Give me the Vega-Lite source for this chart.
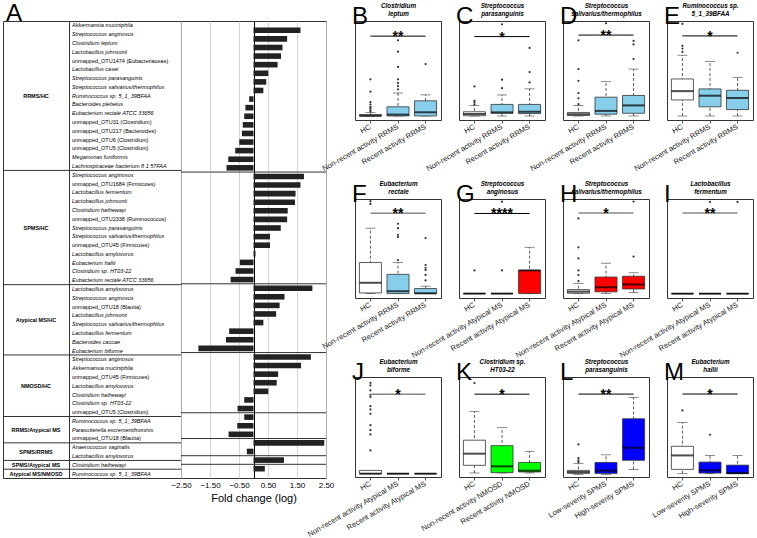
{
"$schema": "https://vega.github.io/schema/vega-lite/v6.json",
"padding": {"left": 2, "top": 1, "right": 0, "bottom": 0},
"background": "white",
"bounds": "flush",
"spacing": 0,
"config": {
 "font": "Liberation Sans",
 "view": {"stroke": "#333", "strokeWidth": 1},
 "axisY": {"labelAngle": 270, "labelAlign": "center", "labelBaseline": "bottom", "labelFontSize": 5.5, "labelPadding": 2, "tickSize": 3, "domain": false, "grid": false, "titleFontSize": 9.5, "titleFontWeight": "normal", "titlePadding": 3, "labelColor": "#333", "tickColor": "#555", "titleColor": "#222"},
 "axisBottom": {"labelAngle": -30, "labelAlign": "right", "labelBaseline": "middle", "labelFontSize": 7.5, "labelPadding": 3, "tickSize": 3, "domain": false, "labelColor": "#222", "tickColor": "#555"},
 "axisTop": {"labels": false, "ticks": false, "domain": false, "titleFontSize": 6.3, "titleFontStyle": "italic", "titleFontWeight": "bold", "titlePadding": 4, "titleColor": "#000"},
 "title": {"fontSize": 24, "fontWeight": "normal", "anchor": "start", "frame": "group", "color": "#000", "offset": -26, "dx": -3, "align": "right"}
},
"datasets": {
 "fc": [
  {"g": "RRMS/HC", "s": "Akkermansia muciniphila", "v": 1.62},
  {"g": "RRMS/HC", "s": "Streptococcus anginosus", "v": 1.16},
  {"g": "RRMS/HC", "s": "Clostridium leptum", "v": 1.0},
  {"g": "RRMS/HC", "s": "Lactobacillus johnsonii", "v": 0.95},
  {"g": "RRMS/HC", "s": "unmapped_OTU1474 (Eubacteriaceae)", "v": 0.83},
  {"g": "RRMS/HC", "s": "Lactobacillus casei", "v": 0.51},
  {"g": "RRMS/HC", "s": "Streptococcus parasanguinis", "v": 0.44},
  {"g": "RRMS/HC", "s": "Streptococcus salivarius/thermophilus", "v": 0.34},
  {"g": "RRMS/HC", "s": "Ruminococcus sp. 5_1_39BFAA", "v": -0.15},
  {"g": "RRMS/HC", "s": "Bacteroides plebeius", "v": -0.28},
  {"g": "RRMS/HC", "s": "Eubacterium rectale ATCC 33656", "v": -0.32},
  {"g": "RRMS/HC", "s": "unmapped_OTU31 (Clostridium)", "v": -0.37},
  {"g": "RRMS/HC", "s": "unmapped_OTU217 (Bacteroides)", "v": -0.4},
  {"g": "RRMS/HC", "s": "unmapped_OTU6 (Clostridium)", "v": -0.49},
  {"g": "RRMS/HC", "s": "unmapped_OTU5 (Clostridium)", "v": -0.63},
  {"g": "RRMS/HC", "s": "Megamonas funiformis", "v": -0.87},
  {"g": "RRMS/HC", "s": "Lachnospiraceae bacterium 8 1 57FAA", "v": -0.93},
  {"g": "SPMS/HC", "s": "Streptococcus anginosus", "v": 1.74},
  {"g": "SPMS/HC", "s": "unmapped_OTU1684 (Firmicutes)", "v": 1.62},
  {"g": "SPMS/HC", "s": "Lactobacillus fermentum", "v": 1.45},
  {"g": "SPMS/HC", "s": "Lactobacillus johnsonii", "v": 1.43},
  {"g": "SPMS/HC", "s": "Clostridium hathewayi", "v": 1.18},
  {"g": "SPMS/HC", "s": "unmapped_OTU2338 (Ruminococcus)", "v": 1.16},
  {"g": "SPMS/HC", "s": "Streptococcus parasanguinis", "v": 0.94},
  {"g": "SPMS/HC", "s": "Streptococcus salivarius/thermophilus", "v": 0.57},
  {"g": "SPMS/HC", "s": "unmapped_OTU45 (Firmicutes)", "v": 0.57},
  {"g": "SPMS/HC", "s": "Lactobacillus amylovorus", "v": 0.07},
  {"g": "SPMS/HC", "s": "Eubacterium hallii", "v": -0.47},
  {"g": "SPMS/HC", "s": "Clostridium sp. HT03-22", "v": -0.62},
  {"g": "SPMS/HC", "s": "Eubacterium rectale ATCC 33656", "v": -0.79},
  {"g": "Atypical MS/HC", "s": "Lactobacillus amylovorus", "v": 2.03},
  {"g": "Atypical MS/HC", "s": "Streptococcus anginosus", "v": 1.07},
  {"g": "Atypical MS/HC", "s": "unmapped_OTU18 (Blautia)", "v": 0.9},
  {"g": "Atypical MS/HC", "s": "Lactobacillus johnsonii", "v": 0.78},
  {"g": "Atypical MS/HC", "s": "Streptococcus salivarius/thermophilus", "v": 0.34},
  {"g": "Atypical MS/HC", "s": "Lactobacillus fermentum", "v": -0.84},
  {"g": "Atypical MS/HC", "s": "Bacteroides caccae", "v": -0.95},
  {"g": "Atypical MS/HC", "s": "Eubacterium biforme", "v": -1.9},
  {"g": "NMOSD/HC", "s": "Streptococcus anginosus", "v": 1.98},
  {"g": "NMOSD/HC", "s": "Akkermansia muciniphila", "v": 1.64},
  {"g": "NMOSD/HC", "s": "unmapped_OTU45 (Firmicutes)", "v": 0.85},
  {"g": "NMOSD/HC", "s": "Lactobacillus amylovorus", "v": 0.8},
  {"g": "NMOSD/HC", "s": "Clostridium hathewayi", "v": 0.51},
  {"g": "NMOSD/HC", "s": "Clostridium sp. HT03-22", "v": -0.32},
  {"g": "NMOSD/HC", "s": "unmapped_OTU5 (Clostridium)", "v": -0.55},
  {"g": "RRMS/Atypical MS", "s": "Ruminococcus sp. 5_1_39BFAA", "v": -0.32},
  {"g": "RRMS/Atypical MS", "s": "Parasutterella excrementihominis", "v": -0.56},
  {"g": "RRMS/Atypical MS", "s": "unmapped_OTU18 (Blautia)", "v": -0.86},
  {"g": "SPMS/RRMS", "s": "Anaerococcus vaginalis", "v": 2.44},
  {"g": "SPMS/RRMS", "s": "Lactobacillus amylovorus", "v": -0.23},
  {"g": "SPMS/Atypical MS", "s": "Clostridium hathewayi", "v": 1.05},
  {"g": "Atypical MS/NMOSD", "s": "Ruminococcus sp. 5_1_39BFAA", "v": 0.39}
 ],
 "box": [
  {"p": "B", "grp": "HC", "c": "HC", "lo": 0, "q1": 0, "med": 0.005, "q3": 0.03, "hi": 0.075},
  {"p": "B", "grp": "Non-recent activity RRMS", "c": "RRMS", "lo": 0, "q1": 0, "med": 0.03, "q3": 0.2, "hi": 0.5},
  {"p": "B", "grp": "Recent activity RRMS", "c": "RRMS", "lo": 0, "q1": 0, "med": 0.08, "q3": 0.33, "hi": 0.46},
  {"p": "C", "grp": "HC", "c": "HC", "lo": 0, "q1": 0.01, "med": 0.066, "q3": 0.14, "hi": 0.34},
  {"p": "C", "grp": "Non-recent activity RRMS", "c": "RRMS", "lo": 0, "q1": 0.09, "med": 0.12, "q3": 0.38, "hi": 0.69},
  {"p": "C", "grp": "Recent activity RRMS", "c": "RRMS", "lo": 0, "q1": 0.08, "med": 0.14, "q3": 0.38, "hi": 0.89},
  {"p": "D", "grp": "HC", "c": "HC", "lo": 0, "q1": 0.06, "med": 0.3, "q3": 0.6, "hi": 1.8},
  {"p": "D", "grp": "Non-recent activity RRMS", "c": "RRMS", "lo": 0, "q1": 0.3, "med": 0.86, "q3": 3.2, "hi": 5.9},
  {"p": "D", "grp": "Recent activity RRMS", "c": "RRMS", "lo": 0, "q1": 0.46, "med": 1.8, "q3": 3.5, "hi": 8.0},
  {"p": "E", "grp": "HC", "c": "HC", "lo": 0, "q1": 2.9, "med": 4.5, "q3": 6.7, "hi": 11.0},
  {"p": "E", "grp": "Non-recent activity RRMS", "c": "RRMS", "lo": 0, "q1": 1.65, "med": 3.67, "q3": 4.9, "hi": 9.86},
  {"p": "E", "grp": "Recent activity RRMS", "c": "RRMS", "lo": 0, "q1": 1.16, "med": 3.25, "q3": 4.65, "hi": 7.0},
  {"p": "F", "grp": "HC", "c": "HC", "lo": 0, "q1": 0.12, "med": 1.97, "q3": 5.65, "hi": 11.9},
  {"p": "F", "grp": "Non-recent activity RRMS", "c": "RRMS", "lo": 0, "q1": 0, "med": 0.43, "q3": 3.5, "hi": 5.65},
  {"p": "F", "grp": "Recent activity RRMS", "c": "RRMS", "lo": 0, "q1": 0, "med": 0.06, "q3": 0.92, "hi": 1.35},
  {"p": "G", "grp": "HC", "c": "HC", "lo": 0, "q1": 0, "med": 0, "q3": 0, "hi": 0},
  {"p": "G", "grp": "Non-recent activity Atypical MS", "c": "Atypical MS", "lo": 0, "q1": 0, "med": 0, "q3": 0, "hi": 0},
  {"p": "G", "grp": "Recent activity Atypical MS", "c": "Atypical MS", "lo": 0, "q1": 0, "med": 0.032, "q3": 0.032, "hi": 0.064},
  {"p": "H", "grp": "HC", "c": "HC", "lo": 0, "q1": 0.06, "med": 0.35, "q3": 0.7, "hi": 1.75},
  {"p": "H", "grp": "Non-recent activity Atypical MS", "c": "Atypical MS", "lo": 0, "q1": 0.3, "med": 1.1, "q3": 2.86, "hi": 5.25},
  {"p": "H", "grp": "Recent activity Atypical MS", "c": "Atypical MS", "lo": 0.2, "q1": 0.8, "med": 1.58, "q3": 3.0, "hi": 3.6},
  {"p": "I", "grp": "HC", "c": "HC", "lo": 0, "q1": 0, "med": 0, "q3": 0, "hi": 0},
  {"p": "I", "grp": "Non-recent activity Atypical MS", "c": "Atypical MS", "lo": 0, "q1": 0, "med": 0, "q3": 0, "hi": 0},
  {"p": "I", "grp": "Recent activity Atypical MS", "c": "Atypical MS", "lo": 0, "q1": 0, "med": 0, "q3": 0, "hi": 0},
  {"p": "J", "grp": "HC", "c": "HC", "lo": 0, "q1": 0, "med": 0, "q3": 0.6, "hi": 0.6},
  {"p": "J", "grp": "Non-recent activity Atypical MS", "c": "Atypical MS", "lo": 0, "q1": 0, "med": 0, "q3": 0, "hi": 0},
  {"p": "J", "grp": "Recent activity Atypical MS", "c": "Atypical MS", "lo": 0, "q1": 0, "med": 0, "q3": 0, "hi": 0},
  {"p": "K", "grp": "HC", "c": "HC", "lo": 0, "q1": 1.45, "med": 3.65, "q3": 6.2, "hi": 11.66},
  {"p": "K", "grp": "Non-recent activity NMOSD", "c": "NMOSD", "lo": 0, "q1": 0.06, "med": 1.26, "q3": 5.17, "hi": 8.57},
  {"p": "K", "grp": "Recent activity NMOSD", "c": "NMOSD", "lo": 0, "q1": 0.19, "med": 0.44, "q3": 2.0, "hi": 4.1},
  {"p": "L", "grp": "HC", "c": "HC", "lo": 0, "q1": 0.03, "med": 0.076, "q3": 0.13, "hi": 0.35},
  {"p": "L", "grp": "Low-severity SPMS", "c": "SPMS", "lo": 0, "q1": 0.03, "med": 0.12, "q3": 0.39, "hi": 0.64},
  {"p": "L", "grp": "High-severity SPMS", "c": "SPMS", "lo": 0.16, "q1": 0.46, "med": 0.87, "q3": 1.82, "hi": 2.52},
  {"p": "M", "grp": "HC", "c": "HC", "lo": 0, "q1": 0.07, "med": 0.3, "q3": 0.45, "hi": 0.84},
  {"p": "M", "grp": "Low-severity SPMS", "c": "SPMS", "lo": 0, "q1": 0.01, "med": 0.055, "q3": 0.19, "hi": 0.3},
  {"p": "M", "grp": "High-severity SPMS", "c": "SPMS", "lo": 0, "q1": 0, "med": 0.01, "q3": 0.14, "hi": 0.3}
 ],
 "out": [
  {"p": "B", "grp": "HC", "y": 0.1}, {"p": "B", "grp": "HC", "y": 0.13}, {"p": "B", "grp": "HC", "y": 0.17}, {"p": "B", "grp": "HC", "y": 0.2}, {"p": "B", "grp": "HC", "y": 0.25}, {"p": "B", "grp": "HC", "y": 0.3}, {"p": "B", "grp": "HC", "y": 0.53}, {"p": "B", "grp": "HC", "y": 0.8},
  {"p": "B", "grp": "Non-recent activity RRMS", "y": 0.58}, {"p": "B", "grp": "Non-recent activity RRMS", "y": 0.65}, {"p": "B", "grp": "Non-recent activity RRMS", "y": 0.72}, {"p": "B", "grp": "Non-recent activity RRMS", "y": 0.8}, {"p": "B", "grp": "Non-recent activity RRMS", "y": 1.07}, {"p": "B", "grp": "Non-recent activity RRMS", "y": 1.4}, {"p": "B", "grp": "Non-recent activity RRMS", "y": 1.65},
  {"p": "B", "grp": "Recent activity RRMS", "y": 1.13},
  {"p": "C", "grp": "HC", "y": 0.38}, {"p": "C", "grp": "HC", "y": 0.45}, {"p": "C", "grp": "HC", "y": 0.5}, {"p": "C", "grp": "HC", "y": 0.97},
  {"p": "C", "grp": "Non-recent activity RRMS", "y": 0.91}, {"p": "C", "grp": "Non-recent activity RRMS", "y": 1.19}, {"p": "C", "grp": "Non-recent activity RRMS", "y": 3.0},
  {"p": "C", "grp": "Recent activity RRMS", "y": 1.1}, {"p": "C", "grp": "Recent activity RRMS", "y": 1.44}, {"p": "C", "grp": "Recent activity RRMS", "y": 2.23},
  {"p": "D", "grp": "HC", "y": 2.0}, {"p": "D", "grp": "HC", "y": 3.0}, {"p": "D", "grp": "HC", "y": 3.9}, {"p": "D", "grp": "HC", "y": 6.0}, {"p": "D", "grp": "HC", "y": 8.0}, {"p": "D", "grp": "HC", "y": 12.9},
  {"p": "D", "grp": "Non-recent activity RRMS", "y": 15.8},
  {"p": "D", "grp": "Recent activity RRMS", "y": 9.7}, {"p": "D", "grp": "Recent activity RRMS", "y": 12.2}, {"p": "D", "grp": "Recent activity RRMS", "y": 12.8},
  {"p": "E", "grp": "HC", "y": 11.6}, {"p": "E", "grp": "HC", "y": 12.2}, {"p": "E", "grp": "HC", "y": 12.7}, {"p": "E", "grp": "HC", "y": 16.7},
  {"p": "E", "grp": "Recent activity RRMS", "y": 11.45},
  {"p": "F", "grp": "HC", "y": 16.3}, {"p": "F", "grp": "HC", "y": 16.8},
  {"p": "F", "grp": "Non-recent activity RRMS", "y": 6.1}, {"p": "F", "grp": "Non-recent activity RRMS", "y": 10.3}, {"p": "F", "grp": "Non-recent activity RRMS", "y": 10.7}, {"p": "F", "grp": "Non-recent activity RRMS", "y": 11.9}, {"p": "F", "grp": "Non-recent activity RRMS", "y": 12.7},
  {"p": "F", "grp": "Recent activity RRMS", "y": 2.4}, {"p": "F", "grp": "Recent activity RRMS", "y": 3.4}, {"p": "F", "grp": "Recent activity RRMS", "y": 4.3}, {"p": "F", "grp": "Recent activity RRMS", "y": 4.7}, {"p": "F", "grp": "Recent activity RRMS", "y": 5.2}, {"p": "F", "grp": "Recent activity RRMS", "y": 10.1},
  {"p": "G", "grp": "HC", "y": 0.032},
  {"p": "G", "grp": "Non-recent activity Atypical MS", "y": 0.032}, {"p": "G", "grp": "Non-recent activity Atypical MS", "y": 0.127},
  {"p": "H", "grp": "HC", "y": 2.16}, {"p": "H", "grp": "HC", "y": 3.2}, {"p": "H", "grp": "HC", "y": 4.0}, {"p": "H", "grp": "HC", "y": 6.1}, {"p": "H", "grp": "HC", "y": 8.0}, {"p": "H", "grp": "HC", "y": 13.0},
  {"p": "H", "grp": "Recent activity Atypical MS", "y": 6.4}, {"p": "H", "grp": "Recent activity Atypical MS", "y": 15.9},
  {"p": "I", "grp": "Non-recent activity Atypical MS", "y": 0.0317}, {"p": "I", "grp": "Recent activity Atypical MS", "y": 0.0317},
  {"p": "J", "grp": "HC", "y": 4.3}, {"p": "J", "grp": "HC", "y": 7.2}, {"p": "J", "grp": "HC", "y": 8.0}, {"p": "J", "grp": "HC", "y": 8.9}, {"p": "J", "grp": "HC", "y": 11.0}, {"p": "J", "grp": "HC", "y": 11.8}, {"p": "J", "grp": "HC", "y": 12.4}, {"p": "J", "grp": "HC", "y": 14.1}, {"p": "J", "grp": "HC", "y": 14.5}, {"p": "J", "grp": "HC", "y": 15.3}, {"p": "J", "grp": "HC", "y": 16.2}, {"p": "J", "grp": "HC", "y": 16.7},
  {"p": "K", "grp": "HC", "y": 17.0},
  {"p": "L", "grp": "HC", "y": 0.4}, {"p": "L", "grp": "HC", "y": 0.46}, {"p": "L", "grp": "HC", "y": 0.53}, {"p": "L", "grp": "HC", "y": 0.98},
  {"p": "M", "grp": "HC", "y": 1.04}, {"p": "M", "grp": "Low-severity SPMS", "y": 0.64}
 ],
 "sig": [
  {"p": "B", "a": "HC", "b": "Recent activity RRMS", "m": "Non-recent activity RRMS", "y": 1.74, "lab": "**"},
  {"p": "C", "a": "HC", "b": "Recent activity RRMS", "m": "Non-recent activity RRMS", "y": 2.6, "lab": "*"},
  {"p": "D", "a": "HC", "b": "Recent activity RRMS", "m": "Non-recent activity RRMS", "y": 13.8, "lab": "**"},
  {"p": "E", "a": "HC", "b": "Recent activity RRMS", "m": "Non-recent activity RRMS", "y": 14.5, "lab": "*"},
  {"p": "F", "a": "HC", "b": "Recent activity RRMS", "m": "Non-recent activity RRMS", "y": 14.6, "lab": "**"},
  {"p": "G", "a": "HC", "b": "Recent activity Atypical MS", "m": "Non-recent activity Atypical MS", "y": 0.1107, "lab": "****"},
  {"p": "H", "a": "HC", "b": "Recent activity Atypical MS", "m": "Non-recent activity Atypical MS", "y": 13.95, "lab": "*"},
  {"p": "I", "a": "HC", "b": "Recent activity Atypical MS", "m": "Non-recent activity Atypical MS", "y": 0.0279, "lab": "**"},
  {"p": "J", "a": "HC", "b": "Recent activity Atypical MS", "m": "Non-recent activity Atypical MS", "y": 14.6, "lab": "*"},
  {"p": "K", "a": "HC", "b": "Recent activity NMOSD", "m": "Non-recent activity NMOSD", "y": 14.9, "lab": "*"},
  {"p": "L", "a": "HC", "b": "High-severity SPMS", "m": "Low-severity SPMS", "y": 2.63, "lab": "**"},
  {"p": "M", "a": "HC", "b": "High-severity SPMS", "m": "Low-severity SPMS", "y": 1.31, "lab": "*"}
 ]
},
"hconcat": [
 {"width": 66, "height": 457, "title": {"text": "A", "offset": -5, "dx": 3, "align": "left"},
  "layer": [
   {"data": {"name": "fc"}, "transform": [{"window": [{"op": "row_number", "as": "r"}]}, {"aggregate": [{"op": "mean", "field": "r", "as": "mid"}], "groupby": ["g"]}],
    "mark": {"type": "text", "fontSize": 5.5, "fontWeight": "bold", "align": "center", "baseline": "middle", "color": "#000"},
    "encoding": {"x": {"datum": 0.5, "type": "quantitative", "scale": {"domain": [0, 1]}, "axis": null},
                 "y": {"field": "mid", "type": "quantitative", "scale": {"domain": [0.5, 52.5], "reverse": true, "nice": false, "zero": false}, "axis": null},
                 "text": {"field": "g"}}},
   {"data": {"name": "fc"}, "transform": [{"window": [{"op": "row_number", "as": "r"}]}, {"aggregate": [{"op": "min", "field": "r", "as": "rmin"}], "groupby": ["g"]}, {"filter": "datum.rmin > 1"}],
    "mark": {"type": "rule", "yOffset": -4.39, "color": "#333", "strokeWidth": 1},
    "encoding": {"y": {"field": "rmin", "type": "quantitative", "scale": {"domain": [0.5, 52.5], "reverse": true, "nice": false, "zero": false}, "axis": null}}}
  ]},
 {"width": 112, "height": 457,
  "layer": [
   {"data": {"name": "fc"}, "transform": [{"window": [{"op": "row_number", "as": "r"}]}, {"filter": "indexof(datum.s, 'unmapped') !== 0"}],
    "mark": {"type": "text", "fontSize": 5.5, "fontStyle": "italic", "align": "left", "baseline": "middle", "dx": 3, "color": "#000"},
    "encoding": {"x": {"datum": 0, "type": "quantitative", "scale": {"domain": [0, 1]}, "axis": null},
                 "y": {"field": "r", "type": "quantitative", "scale": {"domain": [0.5, 52.5], "reverse": true, "nice": false, "zero": false}, "axis": null},
                 "text": {"field": "s"}}},
   {"data": {"name": "fc"}, "transform": [{"window": [{"op": "row_number", "as": "r"}]}, {"filter": "indexof(datum.s, 'unmapped') === 0"}],
    "mark": {"type": "text", "fontSize": 5.5, "align": "left", "baseline": "middle", "dx": 3, "color": "#000"},
    "encoding": {"x": {"datum": 0, "type": "quantitative", "scale": {"domain": [0, 1]}, "axis": null},
                 "y": {"field": "r", "type": "quantitative", "scale": {"domain": [0.5, 52.5], "reverse": true, "nice": false, "zero": false}, "axis": null},
                 "text": {"field": "s"}}},
   {"data": {"name": "fc"}, "transform": [{"window": [{"op": "row_number", "as": "r"}]}, {"aggregate": [{"op": "min", "field": "r", "as": "rmin"}], "groupby": ["g"]}, {"filter": "datum.rmin > 1"}],
    "mark": {"type": "rule", "yOffset": -4.39, "color": "#333", "strokeWidth": 1},
    "encoding": {"y": {"field": "rmin", "type": "quantitative", "scale": {"domain": [0.5, 52.5], "reverse": true, "nice": false, "zero": false}, "axis": null}}}
  ]},
 {"width": 145, "height": 457,
  "layer": [
   {"data": {"name": "fc"}, "transform": [{"window": [{"op": "row_number", "as": "r"}]}],
    "mark": {"type": "bar", "color": "#222", "size": 5.6, "orient": "horizontal"},
    "encoding": {"x": {"field": "v", "type": "quantitative", "scale": {"domain": [-2.5, 2.5], "nice": false, "zero": false},
                       "axis": {"values": [-2.5, -1.5, -0.5, 0, 0.5, 1.5, 2.5], "labelExpr": "datum.value === 0 ? '' : format(datum.value, '.2f')", "grid": true,
                                "gridColor": {"condition": {"test": "datum.value === 0", "value": "#000000"}, "value": "#cccccc"},
                                "gridWidth": {"condition": {"test": "datum.value === 0", "value": 1}, "value": 0.8},
                                "ticks": false, "labelFlush": false, "labelAngle": 0, "labelAlign": "center", "labelBaseline": "top", "labelFontSize": 8, "labelPadding": 3, "labelColor": "#000", "title": "Fold change (log)", "titleFontSize": 11, "titleFontWeight": "normal", "titlePadding": 3, "titleColor": "#000"}},
                 "x2": {"datum": 0},
                 "y": {"field": "r", "type": "quantitative", "scale": {"domain": [0.5, 52.5], "reverse": true, "nice": false, "zero": false}, "axis": null}}},
   {"data": {"name": "fc"}, "transform": [{"window": [{"op": "row_number", "as": "r"}]}, {"aggregate": [{"op": "min", "field": "r", "as": "rmin"}], "groupby": ["g"]}, {"filter": "datum.rmin > 1"}],
    "mark": {"type": "rule", "yOffset": -4.39, "color": "#333", "strokeWidth": 1},
    "encoding": {"y": {"field": "rmin", "type": "quantitative", "scale": {"domain": [0.5, 52.5], "reverse": true, "nice": false, "zero": false}, "axis": null}}}
  ]},
 {"width": 29, "height": 20, "view": {"stroke": null}, "data": {"values": []}, "mark": "point"},
 {
  "bounds": "flush",
  "columns": 4,
  "spacing": {"row": 79, "column": 18},
  "concat": [
    {"width": 86, "height": 99, "title": "B", "resolve": {"axis": {"x": "independent"}},
     "layer": [
      {"data": {"name": "box"}, "transform": [{"filter": "datum.p === 'B'"}], "mark": {"type": "rule", "strokeDash": [3, 2], "color": "#333", "strokeWidth": 0.8},
       "encoding": {"x": {"field": "grp", "type": "nominal", "title": null, "scale": {"domain": ["HC", "Non-recent activity RRMS", "Recent activity RRMS"], "paddingInner": 0, "paddingOuter": 0.06}},
                    "y": {"field": "lo", "type": "quantitative", "title": "relative abundance (%)", "scale": {"domain": [-0.088, 2.07], "nice": false, "zero": false}, "axis": {"values": [0, 0.5, 1, 1.5, 2], "format": ".1f"}},
                    "y2": {"field": "hi"}}},
      {"data": {"name": "box"}, "transform": [{"filter": "datum.p === 'B'"}, {"fold": ["lo", "hi"], "as": ["k", "w"]}], "mark": {"type": "tick", "size": 10, "thickness": 0.8, "color": "#333"},
       "encoding": {"x": {"field": "grp", "type": "nominal", "scale": {"domain": ["HC", "Non-recent activity RRMS", "Recent activity RRMS"], "paddingInner": 0, "paddingOuter": 0.06}, "axis": null},
                    "y": {"field": "w", "type": "quantitative", "scale": {"domain": [-0.088, 2.07], "nice": false, "zero": false}, "axis": null}}},
      {"data": {"name": "box"}, "transform": [{"filter": "datum.p === 'B'"}], "mark": {"type": "bar", "stroke": "#333", "strokeWidth": 0.8, "width": {"band": 0.8}},
       "encoding": {"x": {"field": "grp", "type": "nominal", "scale": {"domain": ["HC", "Non-recent activity RRMS", "Recent activity RRMS"], "paddingInner": 0, "paddingOuter": 0.06}, "axis": null},
                    "y": {"field": "q1", "type": "quantitative", "scale": {"domain": [-0.088, 2.07], "nice": false, "zero": false}, "axis": null}, "y2": {"field": "q3"},
                    "color": {"field": "c", "type": "nominal", "scale": {"domain": ["HC", "RRMS", "Atypical MS", "NMOSD", "SPMS"], "range": ["#ffffff", "#87ceeb", "#ff0000", "#00ff00", "#0000ff"]}, "legend": null}}},
      {"data": {"name": "box"}, "transform": [{"filter": "datum.p === 'B'"}], "mark": {"type": "tick", "size": 22, "thickness": 2, "color": "#000"},
       "encoding": {"x": {"field": "grp", "type": "nominal", "scale": {"domain": ["HC", "Non-recent activity RRMS", "Recent activity RRMS"], "paddingInner": 0, "paddingOuter": 0.06}, "axis": null},
                    "y": {"field": "med", "type": "quantitative", "scale": {"domain": [-0.088, 2.07], "nice": false, "zero": false}, "axis": null}}},
      {"data": {"name": "out"}, "transform": [{"filter": "datum.p === 'B'"}], "mark": {"type": "point", "filled": true, "size": 5, "color": "#333", "opacity": 1},
       "encoding": {"x": {"field": "grp", "type": "nominal", "scale": {"domain": ["HC", "Non-recent activity RRMS", "Recent activity RRMS"], "paddingInner": 0, "paddingOuter": 0.06}, "axis": null},
                    "y": {"field": "y", "type": "quantitative", "scale": {"domain": [-0.088, 2.07], "nice": false, "zero": false}, "axis": null}}},
      {"data": {"name": "sig"}, "transform": [{"filter": "datum.p === 'B'"}], "mark": {"type": "rule", "color": "#000", "strokeWidth": 1},
       "encoding": {"x": {"field": "a", "type": "nominal", "scale": {"domain": ["HC", "Non-recent activity RRMS", "Recent activity RRMS"], "paddingInner": 0, "paddingOuter": 0.06}, "axis": null}, "x2": {"field": "b"},
                    "y": {"field": "y", "type": "quantitative", "scale": {"domain": [-0.088, 2.07], "nice": false, "zero": false}, "axis": null}}},
      {"data": {"name": "sig"}, "transform": [{"filter": "datum.p === 'B'"}], "mark": {"type": "text", "fontSize": 14, "fontWeight": "bold", "baseline": "alphabetic", "dy": 5, "color": "#000"},
       "encoding": {"x": {"field": "m", "type": "nominal", "scale": {"domain": ["HC", "Non-recent activity RRMS", "Recent activity RRMS"], "paddingInner": 0, "paddingOuter": 0.06}, "axis": {"orient": "top", "title": ["Clostridium", "leptum"]}},
                    "y": {"field": "y", "type": "quantitative", "scale": {"domain": [-0.088, 2.07], "nice": false, "zero": false}, "axis": null},
                    "text": {"field": "lab"}}}
     ]},
    {"width": 86, "height": 99, "title": "C", "resolve": {"axis": {"x": "independent"}},
     "layer": [
      {"data": {"name": "box"}, "transform": [{"filter": "datum.p === 'C'"}], "mark": {"type": "rule", "strokeDash": [3, 2], "color": "#333", "strokeWidth": 0.8},
       "encoding": {"x": {"field": "grp", "type": "nominal", "title": null, "scale": {"domain": ["HC", "Non-recent activity RRMS", "Recent activity RRMS"], "paddingInner": 0, "paddingOuter": 0.06}},
                    "y": {"field": "lo", "type": "quantitative", "title": null, "scale": {"domain": [-0.13, 3.11], "nice": false, "zero": false}, "axis": {"values": [0, 0.5, 1, 1.5, 2, 2.5, 3], "format": ".1f"}},
                    "y2": {"field": "hi"}}},
      {"data": {"name": "box"}, "transform": [{"filter": "datum.p === 'C'"}, {"fold": ["lo", "hi"], "as": ["k", "w"]}], "mark": {"type": "tick", "size": 10, "thickness": 0.8, "color": "#333"},
       "encoding": {"x": {"field": "grp", "type": "nominal", "scale": {"domain": ["HC", "Non-recent activity RRMS", "Recent activity RRMS"], "paddingInner": 0, "paddingOuter": 0.06}, "axis": null},
                    "y": {"field": "w", "type": "quantitative", "scale": {"domain": [-0.13, 3.11], "nice": false, "zero": false}, "axis": null}}},
      {"data": {"name": "box"}, "transform": [{"filter": "datum.p === 'C'"}], "mark": {"type": "bar", "stroke": "#333", "strokeWidth": 0.8, "width": {"band": 0.8}},
       "encoding": {"x": {"field": "grp", "type": "nominal", "scale": {"domain": ["HC", "Non-recent activity RRMS", "Recent activity RRMS"], "paddingInner": 0, "paddingOuter": 0.06}, "axis": null},
                    "y": {"field": "q1", "type": "quantitative", "scale": {"domain": [-0.13, 3.11], "nice": false, "zero": false}, "axis": null}, "y2": {"field": "q3"},
                    "color": {"field": "c", "type": "nominal", "scale": {"domain": ["HC", "RRMS", "Atypical MS", "NMOSD", "SPMS"], "range": ["#ffffff", "#87ceeb", "#ff0000", "#00ff00", "#0000ff"]}, "legend": null}}},
      {"data": {"name": "box"}, "transform": [{"filter": "datum.p === 'C'"}], "mark": {"type": "tick", "size": 22, "thickness": 2, "color": "#000"},
       "encoding": {"x": {"field": "grp", "type": "nominal", "scale": {"domain": ["HC", "Non-recent activity RRMS", "Recent activity RRMS"], "paddingInner": 0, "paddingOuter": 0.06}, "axis": null},
                    "y": {"field": "med", "type": "quantitative", "scale": {"domain": [-0.13, 3.11], "nice": false, "zero": false}, "axis": null}}},
      {"data": {"name": "out"}, "transform": [{"filter": "datum.p === 'C'"}], "mark": {"type": "point", "filled": true, "size": 5, "color": "#333", "opacity": 1},
       "encoding": {"x": {"field": "grp", "type": "nominal", "scale": {"domain": ["HC", "Non-recent activity RRMS", "Recent activity RRMS"], "paddingInner": 0, "paddingOuter": 0.06}, "axis": null},
                    "y": {"field": "y", "type": "quantitative", "scale": {"domain": [-0.13, 3.11], "nice": false, "zero": false}, "axis": null}}},
      {"data": {"name": "sig"}, "transform": [{"filter": "datum.p === 'C'"}], "mark": {"type": "rule", "color": "#000", "strokeWidth": 1},
       "encoding": {"x": {"field": "a", "type": "nominal", "scale": {"domain": ["HC", "Non-recent activity RRMS", "Recent activity RRMS"], "paddingInner": 0, "paddingOuter": 0.06}, "axis": null}, "x2": {"field": "b"},
                    "y": {"field": "y", "type": "quantitative", "scale": {"domain": [-0.13, 3.11], "nice": false, "zero": false}, "axis": null}}},
      {"data": {"name": "sig"}, "transform": [{"filter": "datum.p === 'C'"}], "mark": {"type": "text", "fontSize": 14, "fontWeight": "bold", "baseline": "alphabetic", "dy": 5, "color": "#000"},
       "encoding": {"x": {"field": "m", "type": "nominal", "scale": {"domain": ["HC", "Non-recent activity RRMS", "Recent activity RRMS"], "paddingInner": 0, "paddingOuter": 0.06}, "axis": {"orient": "top", "title": ["Streptococcus", "parasanguinis"]}},
                    "y": {"field": "y", "type": "quantitative", "scale": {"domain": [-0.13, 3.11], "nice": false, "zero": false}, "axis": null},
                    "text": {"field": "lab"}}}
     ]},
    {"width": 86, "height": 99, "title": "D", "resolve": {"axis": {"x": "independent"}},
     "layer": [
      {"data": {"name": "box"}, "transform": [{"filter": "datum.p === 'D'"}], "mark": {"type": "rule", "strokeDash": [3, 2], "color": "#333", "strokeWidth": 0.8},
       "encoding": {"x": {"field": "grp", "type": "nominal", "title": null, "scale": {"domain": ["HC", "Non-recent activity RRMS", "Recent activity RRMS"], "paddingInner": 0, "paddingOuter": 0.06}},
                    "y": {"field": "lo", "type": "quantitative", "title": null, "scale": {"domain": [-0.69, 16.2], "nice": false, "zero": false}, "axis": {"values": [0, 5, 10, 15], "format": "d"}},
                    "y2": {"field": "hi"}}},
      {"data": {"name": "box"}, "transform": [{"filter": "datum.p === 'D'"}, {"fold": ["lo", "hi"], "as": ["k", "w"]}], "mark": {"type": "tick", "size": 10, "thickness": 0.8, "color": "#333"},
       "encoding": {"x": {"field": "grp", "type": "nominal", "scale": {"domain": ["HC", "Non-recent activity RRMS", "Recent activity RRMS"], "paddingInner": 0, "paddingOuter": 0.06}, "axis": null},
                    "y": {"field": "w", "type": "quantitative", "scale": {"domain": [-0.69, 16.2], "nice": false, "zero": false}, "axis": null}}},
      {"data": {"name": "box"}, "transform": [{"filter": "datum.p === 'D'"}], "mark": {"type": "bar", "stroke": "#333", "strokeWidth": 0.8, "width": {"band": 0.8}},
       "encoding": {"x": {"field": "grp", "type": "nominal", "scale": {"domain": ["HC", "Non-recent activity RRMS", "Recent activity RRMS"], "paddingInner": 0, "paddingOuter": 0.06}, "axis": null},
                    "y": {"field": "q1", "type": "quantitative", "scale": {"domain": [-0.69, 16.2], "nice": false, "zero": false}, "axis": null}, "y2": {"field": "q3"},
                    "color": {"field": "c", "type": "nominal", "scale": {"domain": ["HC", "RRMS", "Atypical MS", "NMOSD", "SPMS"], "range": ["#ffffff", "#87ceeb", "#ff0000", "#00ff00", "#0000ff"]}, "legend": null}}},
      {"data": {"name": "box"}, "transform": [{"filter": "datum.p === 'D'"}], "mark": {"type": "tick", "size": 22, "thickness": 2, "color": "#000"},
       "encoding": {"x": {"field": "grp", "type": "nominal", "scale": {"domain": ["HC", "Non-recent activity RRMS", "Recent activity RRMS"], "paddingInner": 0, "paddingOuter": 0.06}, "axis": null},
                    "y": {"field": "med", "type": "quantitative", "scale": {"domain": [-0.69, 16.2], "nice": false, "zero": false}, "axis": null}}},
      {"data": {"name": "out"}, "transform": [{"filter": "datum.p === 'D'"}], "mark": {"type": "point", "filled": true, "size": 5, "color": "#333", "opacity": 1},
       "encoding": {"x": {"field": "grp", "type": "nominal", "scale": {"domain": ["HC", "Non-recent activity RRMS", "Recent activity RRMS"], "paddingInner": 0, "paddingOuter": 0.06}, "axis": null},
                    "y": {"field": "y", "type": "quantitative", "scale": {"domain": [-0.69, 16.2], "nice": false, "zero": false}, "axis": null}}},
      {"data": {"name": "sig"}, "transform": [{"filter": "datum.p === 'D'"}], "mark": {"type": "rule", "color": "#000", "strokeWidth": 1},
       "encoding": {"x": {"field": "a", "type": "nominal", "scale": {"domain": ["HC", "Non-recent activity RRMS", "Recent activity RRMS"], "paddingInner": 0, "paddingOuter": 0.06}, "axis": null}, "x2": {"field": "b"},
                    "y": {"field": "y", "type": "quantitative", "scale": {"domain": [-0.69, 16.2], "nice": false, "zero": false}, "axis": null}}},
      {"data": {"name": "sig"}, "transform": [{"filter": "datum.p === 'D'"}], "mark": {"type": "text", "fontSize": 14, "fontWeight": "bold", "baseline": "alphabetic", "dy": 5, "color": "#000"},
       "encoding": {"x": {"field": "m", "type": "nominal", "scale": {"domain": ["HC", "Non-recent activity RRMS", "Recent activity RRMS"], "paddingInner": 0, "paddingOuter": 0.06}, "axis": {"orient": "top", "title": ["Streptococcus", "salivarius/thermophilus"]}},
                    "y": {"field": "y", "type": "quantitative", "scale": {"domain": [-0.69, 16.2], "nice": false, "zero": false}, "axis": null},
                    "text": {"field": "lab"}}}
     ]},
    {"width": 86, "height": 99, "title": "E", "resolve": {"axis": {"x": "independent"}},
     "layer": [
      {"data": {"name": "box"}, "transform": [{"filter": "datum.p === 'E'"}], "mark": {"type": "rule", "strokeDash": [3, 2], "color": "#333", "strokeWidth": 0.8},
       "encoding": {"x": {"field": "grp", "type": "nominal", "title": null, "scale": {"domain": ["HC", "Non-recent activity RRMS", "Recent activity RRMS"], "paddingInner": 0, "paddingOuter": 0.06}},
                    "y": {"field": "lo", "type": "quantitative", "title": null, "scale": {"domain": [-0.73, 17.2], "nice": false, "zero": false}, "axis": {"values": [0, 5, 10, 15], "format": "d"}},
                    "y2": {"field": "hi"}}},
      {"data": {"name": "box"}, "transform": [{"filter": "datum.p === 'E'"}, {"fold": ["lo", "hi"], "as": ["k", "w"]}], "mark": {"type": "tick", "size": 10, "thickness": 0.8, "color": "#333"},
       "encoding": {"x": {"field": "grp", "type": "nominal", "scale": {"domain": ["HC", "Non-recent activity RRMS", "Recent activity RRMS"], "paddingInner": 0, "paddingOuter": 0.06}, "axis": null},
                    "y": {"field": "w", "type": "quantitative", "scale": {"domain": [-0.73, 17.2], "nice": false, "zero": false}, "axis": null}}},
      {"data": {"name": "box"}, "transform": [{"filter": "datum.p === 'E'"}], "mark": {"type": "bar", "stroke": "#333", "strokeWidth": 0.8, "width": {"band": 0.8}},
       "encoding": {"x": {"field": "grp", "type": "nominal", "scale": {"domain": ["HC", "Non-recent activity RRMS", "Recent activity RRMS"], "paddingInner": 0, "paddingOuter": 0.06}, "axis": null},
                    "y": {"field": "q1", "type": "quantitative", "scale": {"domain": [-0.73, 17.2], "nice": false, "zero": false}, "axis": null}, "y2": {"field": "q3"},
                    "color": {"field": "c", "type": "nominal", "scale": {"domain": ["HC", "RRMS", "Atypical MS", "NMOSD", "SPMS"], "range": ["#ffffff", "#87ceeb", "#ff0000", "#00ff00", "#0000ff"]}, "legend": null}}},
      {"data": {"name": "box"}, "transform": [{"filter": "datum.p === 'E'"}], "mark": {"type": "tick", "size": 22, "thickness": 2, "color": "#000"},
       "encoding": {"x": {"field": "grp", "type": "nominal", "scale": {"domain": ["HC", "Non-recent activity RRMS", "Recent activity RRMS"], "paddingInner": 0, "paddingOuter": 0.06}, "axis": null},
                    "y": {"field": "med", "type": "quantitative", "scale": {"domain": [-0.73, 17.2], "nice": false, "zero": false}, "axis": null}}},
      {"data": {"name": "out"}, "transform": [{"filter": "datum.p === 'E'"}], "mark": {"type": "point", "filled": true, "size": 5, "color": "#333", "opacity": 1},
       "encoding": {"x": {"field": "grp", "type": "nominal", "scale": {"domain": ["HC", "Non-recent activity RRMS", "Recent activity RRMS"], "paddingInner": 0, "paddingOuter": 0.06}, "axis": null},
                    "y": {"field": "y", "type": "quantitative", "scale": {"domain": [-0.73, 17.2], "nice": false, "zero": false}, "axis": null}}},
      {"data": {"name": "sig"}, "transform": [{"filter": "datum.p === 'E'"}], "mark": {"type": "rule", "color": "#000", "strokeWidth": 1},
       "encoding": {"x": {"field": "a", "type": "nominal", "scale": {"domain": ["HC", "Non-recent activity RRMS", "Recent activity RRMS"], "paddingInner": 0, "paddingOuter": 0.06}, "axis": null}, "x2": {"field": "b"},
                    "y": {"field": "y", "type": "quantitative", "scale": {"domain": [-0.73, 17.2], "nice": false, "zero": false}, "axis": null}}},
      {"data": {"name": "sig"}, "transform": [{"filter": "datum.p === 'E'"}], "mark": {"type": "text", "fontSize": 14, "fontWeight": "bold", "baseline": "alphabetic", "dy": 5, "color": "#000"},
       "encoding": {"x": {"field": "m", "type": "nominal", "scale": {"domain": ["HC", "Non-recent activity RRMS", "Recent activity RRMS"], "paddingInner": 0, "paddingOuter": 0.06}, "axis": {"orient": "top", "title": ["Ruminococcus sp.", "5_1_39BFAA"]}},
                    "y": {"field": "y", "type": "quantitative", "scale": {"domain": [-0.73, 17.2], "nice": false, "zero": false}, "axis": null},
                    "text": {"field": "lab"}}}
     ]},
    {"width": 86, "height": 99, "title": "F", "resolve": {"axis": {"x": "independent"}},
     "layer": [
      {"data": {"name": "box"}, "transform": [{"filter": "datum.p === 'F'"}], "mark": {"type": "rule", "strokeDash": [3, 2], "color": "#333", "strokeWidth": 0.8},
       "encoding": {"x": {"field": "grp", "type": "nominal", "title": null, "scale": {"domain": ["HC", "Non-recent activity RRMS", "Recent activity RRMS"], "paddingInner": 0, "paddingOuter": 0.06}},
                    "y": {"field": "lo", "type": "quantitative", "title": "relative abundance (%)", "scale": {"domain": [-0.8, 17.2], "nice": false, "zero": false}, "axis": {"values": [0, 5, 10, 15], "format": "d"}},
                    "y2": {"field": "hi"}}},
      {"data": {"name": "box"}, "transform": [{"filter": "datum.p === 'F'"}, {"fold": ["lo", "hi"], "as": ["k", "w"]}], "mark": {"type": "tick", "size": 10, "thickness": 0.8, "color": "#333"},
       "encoding": {"x": {"field": "grp", "type": "nominal", "scale": {"domain": ["HC", "Non-recent activity RRMS", "Recent activity RRMS"], "paddingInner": 0, "paddingOuter": 0.06}, "axis": null},
                    "y": {"field": "w", "type": "quantitative", "scale": {"domain": [-0.8, 17.2], "nice": false, "zero": false}, "axis": null}}},
      {"data": {"name": "box"}, "transform": [{"filter": "datum.p === 'F'"}], "mark": {"type": "bar", "stroke": "#333", "strokeWidth": 0.8, "width": {"band": 0.8}},
       "encoding": {"x": {"field": "grp", "type": "nominal", "scale": {"domain": ["HC", "Non-recent activity RRMS", "Recent activity RRMS"], "paddingInner": 0, "paddingOuter": 0.06}, "axis": null},
                    "y": {"field": "q1", "type": "quantitative", "scale": {"domain": [-0.8, 17.2], "nice": false, "zero": false}, "axis": null}, "y2": {"field": "q3"},
                    "color": {"field": "c", "type": "nominal", "scale": {"domain": ["HC", "RRMS", "Atypical MS", "NMOSD", "SPMS"], "range": ["#ffffff", "#87ceeb", "#ff0000", "#00ff00", "#0000ff"]}, "legend": null}}},
      {"data": {"name": "box"}, "transform": [{"filter": "datum.p === 'F'"}], "mark": {"type": "tick", "size": 22, "thickness": 2, "color": "#000"},
       "encoding": {"x": {"field": "grp", "type": "nominal", "scale": {"domain": ["HC", "Non-recent activity RRMS", "Recent activity RRMS"], "paddingInner": 0, "paddingOuter": 0.06}, "axis": null},
                    "y": {"field": "med", "type": "quantitative", "scale": {"domain": [-0.8, 17.2], "nice": false, "zero": false}, "axis": null}}},
      {"data": {"name": "out"}, "transform": [{"filter": "datum.p === 'F'"}], "mark": {"type": "point", "filled": true, "size": 5, "color": "#333", "opacity": 1},
       "encoding": {"x": {"field": "grp", "type": "nominal", "scale": {"domain": ["HC", "Non-recent activity RRMS", "Recent activity RRMS"], "paddingInner": 0, "paddingOuter": 0.06}, "axis": null},
                    "y": {"field": "y", "type": "quantitative", "scale": {"domain": [-0.8, 17.2], "nice": false, "zero": false}, "axis": null}}},
      {"data": {"name": "sig"}, "transform": [{"filter": "datum.p === 'F'"}], "mark": {"type": "rule", "color": "#888", "strokeWidth": 1.5},
       "encoding": {"x": {"field": "a", "type": "nominal", "scale": {"domain": ["HC", "Non-recent activity RRMS", "Recent activity RRMS"], "paddingInner": 0, "paddingOuter": 0.06}, "axis": null}, "x2": {"field": "b"},
                    "y": {"field": "y", "type": "quantitative", "scale": {"domain": [-0.8, 17.2], "nice": false, "zero": false}, "axis": null}}},
      {"data": {"name": "sig"}, "transform": [{"filter": "datum.p === 'F'"}], "mark": {"type": "text", "fontSize": 14, "fontWeight": "bold", "baseline": "alphabetic", "dy": 5, "color": "#000"},
       "encoding": {"x": {"field": "m", "type": "nominal", "scale": {"domain": ["HC", "Non-recent activity RRMS", "Recent activity RRMS"], "paddingInner": 0, "paddingOuter": 0.06}, "axis": {"orient": "top", "title": ["Eubacterium", "rectale"]}},
                    "y": {"field": "y", "type": "quantitative", "scale": {"domain": [-0.8, 17.2], "nice": false, "zero": false}, "axis": null},
                    "text": {"field": "lab"}}}
     ]},
    {"width": 86, "height": 99, "title": "G", "resolve": {"axis": {"x": "independent"}},
     "layer": [
      {"data": {"name": "box"}, "transform": [{"filter": "datum.p === 'G'"}], "mark": {"type": "rule", "strokeDash": [3, 2], "color": "#333", "strokeWidth": 0.8},
       "encoding": {"x": {"field": "grp", "type": "nominal", "title": null, "scale": {"domain": ["HC", "Non-recent activity Atypical MS", "Recent activity Atypical MS"], "paddingInner": 0, "paddingOuter": 0.06}},
                    "y": {"field": "lo", "type": "quantitative", "title": null, "scale": {"domain": [-0.0061, 0.1307], "nice": false, "zero": false}, "axis": {"values": [0, 0.02, 0.04, 0.06, 0.08, 0.1, 0.12], "format": ".2f"}},
                    "y2": {"field": "hi"}}},
      {"data": {"name": "box"}, "transform": [{"filter": "datum.p === 'G'"}, {"fold": ["lo", "hi"], "as": ["k", "w"]}], "mark": {"type": "tick", "size": 10, "thickness": 0.8, "color": "#333"},
       "encoding": {"x": {"field": "grp", "type": "nominal", "scale": {"domain": ["HC", "Non-recent activity Atypical MS", "Recent activity Atypical MS"], "paddingInner": 0, "paddingOuter": 0.06}, "axis": null},
                    "y": {"field": "w", "type": "quantitative", "scale": {"domain": [-0.0061, 0.1307], "nice": false, "zero": false}, "axis": null}}},
      {"data": {"name": "box"}, "transform": [{"filter": "datum.p === 'G'"}], "mark": {"type": "bar", "stroke": "#333", "strokeWidth": 0.8, "width": {"band": 0.8}},
       "encoding": {"x": {"field": "grp", "type": "nominal", "scale": {"domain": ["HC", "Non-recent activity Atypical MS", "Recent activity Atypical MS"], "paddingInner": 0, "paddingOuter": 0.06}, "axis": null},
                    "y": {"field": "q1", "type": "quantitative", "scale": {"domain": [-0.0061, 0.1307], "nice": false, "zero": false}, "axis": null}, "y2": {"field": "q3"},
                    "color": {"field": "c", "type": "nominal", "scale": {"domain": ["HC", "RRMS", "Atypical MS", "NMOSD", "SPMS"], "range": ["#ffffff", "#87ceeb", "#ff0000", "#00ff00", "#0000ff"]}, "legend": null}}},
      {"data": {"name": "box"}, "transform": [{"filter": "datum.p === 'G'"}], "mark": {"type": "tick", "size": 22, "thickness": 2, "color": "#000"},
       "encoding": {"x": {"field": "grp", "type": "nominal", "scale": {"domain": ["HC", "Non-recent activity Atypical MS", "Recent activity Atypical MS"], "paddingInner": 0, "paddingOuter": 0.06}, "axis": null},
                    "y": {"field": "med", "type": "quantitative", "scale": {"domain": [-0.0061, 0.1307], "nice": false, "zero": false}, "axis": null}}},
      {"data": {"name": "out"}, "transform": [{"filter": "datum.p === 'G'"}], "mark": {"type": "point", "filled": true, "size": 5, "color": "#333", "opacity": 1},
       "encoding": {"x": {"field": "grp", "type": "nominal", "scale": {"domain": ["HC", "Non-recent activity Atypical MS", "Recent activity Atypical MS"], "paddingInner": 0, "paddingOuter": 0.06}, "axis": null},
                    "y": {"field": "y", "type": "quantitative", "scale": {"domain": [-0.0061, 0.1307], "nice": false, "zero": false}, "axis": null}}},
      {"data": {"name": "sig"}, "transform": [{"filter": "datum.p === 'G'"}], "mark": {"type": "rule", "color": "#000", "strokeWidth": 1},
       "encoding": {"x": {"field": "a", "type": "nominal", "scale": {"domain": ["HC", "Non-recent activity Atypical MS", "Recent activity Atypical MS"], "paddingInner": 0, "paddingOuter": 0.06}, "axis": null}, "x2": {"field": "b"},
                    "y": {"field": "y", "type": "quantitative", "scale": {"domain": [-0.0061, 0.1307], "nice": false, "zero": false}, "axis": null}}},
      {"data": {"name": "sig"}, "transform": [{"filter": "datum.p === 'G'"}], "mark": {"type": "text", "fontSize": 14, "fontWeight": "bold", "baseline": "alphabetic", "dy": 5, "color": "#000"},
       "encoding": {"x": {"field": "m", "type": "nominal", "scale": {"domain": ["HC", "Non-recent activity Atypical MS", "Recent activity Atypical MS"], "paddingInner": 0, "paddingOuter": 0.06}, "axis": {"orient": "top", "title": ["Streptococcus", "anginosus"]}},
                    "y": {"field": "y", "type": "quantitative", "scale": {"domain": [-0.0061, 0.1307], "nice": false, "zero": false}, "axis": null},
                    "text": {"field": "lab"}}}
     ]},
    {"width": 86, "height": 99, "title": "H", "resolve": {"axis": {"x": "independent"}},
     "layer": [
      {"data": {"name": "box"}, "transform": [{"filter": "datum.p === 'H'"}], "mark": {"type": "rule", "strokeDash": [3, 2], "color": "#333", "strokeWidth": 0.8},
       "encoding": {"x": {"field": "grp", "type": "nominal", "title": null, "scale": {"domain": ["HC", "Non-recent activity Atypical MS", "Recent activity Atypical MS"], "paddingInner": 0, "paddingOuter": 0.06}},
                    "y": {"field": "lo", "type": "quantitative", "title": null, "scale": {"domain": [-0.76, 16.35], "nice": false, "zero": false}, "axis": {"values": [0, 5, 10, 15], "format": "d"}},
                    "y2": {"field": "hi"}}},
      {"data": {"name": "box"}, "transform": [{"filter": "datum.p === 'H'"}, {"fold": ["lo", "hi"], "as": ["k", "w"]}], "mark": {"type": "tick", "size": 10, "thickness": 0.8, "color": "#333"},
       "encoding": {"x": {"field": "grp", "type": "nominal", "scale": {"domain": ["HC", "Non-recent activity Atypical MS", "Recent activity Atypical MS"], "paddingInner": 0, "paddingOuter": 0.06}, "axis": null},
                    "y": {"field": "w", "type": "quantitative", "scale": {"domain": [-0.76, 16.35], "nice": false, "zero": false}, "axis": null}}},
      {"data": {"name": "box"}, "transform": [{"filter": "datum.p === 'H'"}], "mark": {"type": "bar", "stroke": "#333", "strokeWidth": 0.8, "width": {"band": 0.8}},
       "encoding": {"x": {"field": "grp", "type": "nominal", "scale": {"domain": ["HC", "Non-recent activity Atypical MS", "Recent activity Atypical MS"], "paddingInner": 0, "paddingOuter": 0.06}, "axis": null},
                    "y": {"field": "q1", "type": "quantitative", "scale": {"domain": [-0.76, 16.35], "nice": false, "zero": false}, "axis": null}, "y2": {"field": "q3"},
                    "color": {"field": "c", "type": "nominal", "scale": {"domain": ["HC", "RRMS", "Atypical MS", "NMOSD", "SPMS"], "range": ["#ffffff", "#87ceeb", "#ff0000", "#00ff00", "#0000ff"]}, "legend": null}}},
      {"data": {"name": "box"}, "transform": [{"filter": "datum.p === 'H'"}], "mark": {"type": "tick", "size": 22, "thickness": 2, "color": "#000"},
       "encoding": {"x": {"field": "grp", "type": "nominal", "scale": {"domain": ["HC", "Non-recent activity Atypical MS", "Recent activity Atypical MS"], "paddingInner": 0, "paddingOuter": 0.06}, "axis": null},
                    "y": {"field": "med", "type": "quantitative", "scale": {"domain": [-0.76, 16.35], "nice": false, "zero": false}, "axis": null}}},
      {"data": {"name": "out"}, "transform": [{"filter": "datum.p === 'H'"}], "mark": {"type": "point", "filled": true, "size": 5, "color": "#333", "opacity": 1},
       "encoding": {"x": {"field": "grp", "type": "nominal", "scale": {"domain": ["HC", "Non-recent activity Atypical MS", "Recent activity Atypical MS"], "paddingInner": 0, "paddingOuter": 0.06}, "axis": null},
                    "y": {"field": "y", "type": "quantitative", "scale": {"domain": [-0.76, 16.35], "nice": false, "zero": false}, "axis": null}}},
      {"data": {"name": "sig"}, "transform": [{"filter": "datum.p === 'H'"}], "mark": {"type": "rule", "color": "#888", "strokeWidth": 1.5},
       "encoding": {"x": {"field": "a", "type": "nominal", "scale": {"domain": ["HC", "Non-recent activity Atypical MS", "Recent activity Atypical MS"], "paddingInner": 0, "paddingOuter": 0.06}, "axis": null}, "x2": {"field": "b"},
                    "y": {"field": "y", "type": "quantitative", "scale": {"domain": [-0.76, 16.35], "nice": false, "zero": false}, "axis": null}}},
      {"data": {"name": "sig"}, "transform": [{"filter": "datum.p === 'H'"}], "mark": {"type": "text", "fontSize": 14, "fontWeight": "bold", "baseline": "alphabetic", "dy": 5, "color": "#000"},
       "encoding": {"x": {"field": "m", "type": "nominal", "scale": {"domain": ["HC", "Non-recent activity Atypical MS", "Recent activity Atypical MS"], "paddingInner": 0, "paddingOuter": 0.06}, "axis": {"orient": "top", "title": ["Streptococcus", "salivarius/thermophilus"]}},
                    "y": {"field": "y", "type": "quantitative", "scale": {"domain": [-0.76, 16.35], "nice": false, "zero": false}, "axis": null},
                    "text": {"field": "lab"}}}
     ]},
    {"width": 86, "height": 99, "title": "I", "resolve": {"axis": {"x": "independent"}},
     "layer": [
      {"data": {"name": "box"}, "transform": [{"filter": "datum.p === 'I'"}], "mark": {"type": "rule", "strokeDash": [3, 2], "color": "#333", "strokeWidth": 0.8},
       "encoding": {"x": {"field": "grp", "type": "nominal", "title": null, "scale": {"domain": ["HC", "Non-recent activity Atypical MS", "Recent activity Atypical MS"], "paddingInner": 0, "paddingOuter": 0.06}},
                    "y": {"field": "lo", "type": "quantitative", "title": null, "scale": {"domain": [-0.0015, 0.0327], "nice": false, "zero": false}, "axis": {"values": [0, 0.01, 0.02, 0.03], "format": ".3f"}},
                    "y2": {"field": "hi"}}},
      {"data": {"name": "box"}, "transform": [{"filter": "datum.p === 'I'"}], "mark": {"type": "bar", "stroke": "#333", "strokeWidth": 0.8, "width": {"band": 0.8}},
       "encoding": {"x": {"field": "grp", "type": "nominal", "scale": {"domain": ["HC", "Non-recent activity Atypical MS", "Recent activity Atypical MS"], "paddingInner": 0, "paddingOuter": 0.06}, "axis": null},
                    "y": {"field": "q1", "type": "quantitative", "scale": {"domain": [-0.0015, 0.0327], "nice": false, "zero": false}, "axis": null}, "y2": {"field": "q3"},
                    "color": {"field": "c", "type": "nominal", "scale": {"domain": ["HC", "RRMS", "Atypical MS", "NMOSD", "SPMS"], "range": ["#ffffff", "#87ceeb", "#ff0000", "#00ff00", "#0000ff"]}, "legend": null}}},
      {"data": {"name": "box"}, "transform": [{"filter": "datum.p === 'I'"}], "mark": {"type": "tick", "size": 22, "thickness": 2, "color": "#000"},
       "encoding": {"x": {"field": "grp", "type": "nominal", "scale": {"domain": ["HC", "Non-recent activity Atypical MS", "Recent activity Atypical MS"], "paddingInner": 0, "paddingOuter": 0.06}, "axis": null},
                    "y": {"field": "med", "type": "quantitative", "scale": {"domain": [-0.0015, 0.0327], "nice": false, "zero": false}, "axis": null}}},
      {"data": {"name": "out"}, "transform": [{"filter": "datum.p === 'I'"}], "mark": {"type": "point", "filled": true, "size": 5, "color": "#333", "opacity": 1},
       "encoding": {"x": {"field": "grp", "type": "nominal", "scale": {"domain": ["HC", "Non-recent activity Atypical MS", "Recent activity Atypical MS"], "paddingInner": 0, "paddingOuter": 0.06}, "axis": null},
                    "y": {"field": "y", "type": "quantitative", "scale": {"domain": [-0.0015, 0.0327], "nice": false, "zero": false}, "axis": null}}},
      {"data": {"name": "sig"}, "transform": [{"filter": "datum.p === 'I'"}], "mark": {"type": "rule", "color": "#888", "strokeWidth": 1.5},
       "encoding": {"x": {"field": "a", "type": "nominal", "scale": {"domain": ["HC", "Non-recent activity Atypical MS", "Recent activity Atypical MS"], "paddingInner": 0, "paddingOuter": 0.06}, "axis": null}, "x2": {"field": "b"},
                    "y": {"field": "y", "type": "quantitative", "scale": {"domain": [-0.0015, 0.0327], "nice": false, "zero": false}, "axis": null}}},
      {"data": {"name": "sig"}, "transform": [{"filter": "datum.p === 'I'"}], "mark": {"type": "text", "fontSize": 14, "fontWeight": "bold", "baseline": "alphabetic", "dy": 5, "color": "#000"},
       "encoding": {"x": {"field": "m", "type": "nominal", "scale": {"domain": ["HC", "Non-recent activity Atypical MS", "Recent activity Atypical MS"], "paddingInner": 0, "paddingOuter": 0.06}, "axis": {"orient": "top", "title": ["Lactobacillus", "fermentum"]}},
                    "y": {"field": "y", "type": "quantitative", "scale": {"domain": [-0.0015, 0.0327], "nice": false, "zero": false}, "axis": null},
                    "text": {"field": "lab"}}}
     ]},
    {"width": 86, "height": 100, "title": "J", "resolve": {"axis": {"x": "independent"}},
     "layer": [
      {"data": {"name": "box"}, "transform": [{"filter": "datum.p === 'J'"}], "mark": {"type": "rule", "strokeDash": [3, 2], "color": "#333", "strokeWidth": 0.8},
       "encoding": {"x": {"field": "grp", "type": "nominal", "title": null, "scale": {"domain": ["HC", "Non-recent activity Atypical MS", "Recent activity Atypical MS"], "paddingInner": 0, "paddingOuter": 0.06}},
                    "y": {"field": "lo", "type": "quantitative", "title": "relative abundance (%)", "scale": {"domain": [-0.61, 17.76], "nice": false, "zero": false}, "axis": {"values": [0, 5, 10, 15], "format": "d"}},
                    "y2": {"field": "hi"}}},
      {"data": {"name": "box"}, "transform": [{"filter": "datum.p === 'J'"}], "mark": {"type": "bar", "stroke": "#333", "strokeWidth": 0.8, "width": {"band": 0.8}},
       "encoding": {"x": {"field": "grp", "type": "nominal", "scale": {"domain": ["HC", "Non-recent activity Atypical MS", "Recent activity Atypical MS"], "paddingInner": 0, "paddingOuter": 0.06}, "axis": null},
                    "y": {"field": "q1", "type": "quantitative", "scale": {"domain": [-0.61, 17.76], "nice": false, "zero": false}, "axis": null}, "y2": {"field": "q3"},
                    "color": {"field": "c", "type": "nominal", "scale": {"domain": ["HC", "RRMS", "Atypical MS", "NMOSD", "SPMS"], "range": ["#ffffff", "#87ceeb", "#ff0000", "#00ff00", "#0000ff"]}, "legend": null}}},
      {"data": {"name": "box"}, "transform": [{"filter": "datum.p === 'J'"}], "mark": {"type": "tick", "size": 22, "thickness": 2, "color": "#000"},
       "encoding": {"x": {"field": "grp", "type": "nominal", "scale": {"domain": ["HC", "Non-recent activity Atypical MS", "Recent activity Atypical MS"], "paddingInner": 0, "paddingOuter": 0.06}, "axis": null},
                    "y": {"field": "med", "type": "quantitative", "scale": {"domain": [-0.61, 17.76], "nice": false, "zero": false}, "axis": null}}},
      {"data": {"name": "out"}, "transform": [{"filter": "datum.p === 'J'"}], "mark": {"type": "point", "filled": true, "size": 5, "color": "#333", "opacity": 1},
       "encoding": {"x": {"field": "grp", "type": "nominal", "scale": {"domain": ["HC", "Non-recent activity Atypical MS", "Recent activity Atypical MS"], "paddingInner": 0, "paddingOuter": 0.06}, "axis": null},
                    "y": {"field": "y", "type": "quantitative", "scale": {"domain": [-0.61, 17.76], "nice": false, "zero": false}, "axis": null}}},
      {"data": {"name": "sig"}, "transform": [{"filter": "datum.p === 'J'"}], "mark": {"type": "rule", "color": "#888", "strokeWidth": 1.5},
       "encoding": {"x": {"field": "a", "type": "nominal", "scale": {"domain": ["HC", "Non-recent activity Atypical MS", "Recent activity Atypical MS"], "paddingInner": 0, "paddingOuter": 0.06}, "axis": null}, "x2": {"field": "b"},
                    "y": {"field": "y", "type": "quantitative", "scale": {"domain": [-0.61, 17.76], "nice": false, "zero": false}, "axis": null}}},
      {"data": {"name": "sig"}, "transform": [{"filter": "datum.p === 'J'"}], "mark": {"type": "text", "fontSize": 14, "fontWeight": "bold", "baseline": "alphabetic", "dy": 5, "color": "#000"},
       "encoding": {"x": {"field": "m", "type": "nominal", "scale": {"domain": ["HC", "Non-recent activity Atypical MS", "Recent activity Atypical MS"], "paddingInner": 0, "paddingOuter": 0.06}, "axis": {"orient": "top", "title": ["Eubacterium", "biforme"]}},
                    "y": {"field": "y", "type": "quantitative", "scale": {"domain": [-0.61, 17.76], "nice": false, "zero": false}, "axis": null},
                    "text": {"field": "lab"}}}
     ]},
    {"width": 86, "height": 100, "title": "K", "resolve": {"axis": {"x": "independent"}},
     "layer": [
      {"data": {"name": "box"}, "transform": [{"filter": "datum.p === 'K'"}], "mark": {"type": "rule", "strokeDash": [3, 2], "color": "#333", "strokeWidth": 0.8},
       "encoding": {"x": {"field": "grp", "type": "nominal", "title": null, "scale": {"domain": ["HC", "Non-recent activity NMOSD", "Recent activity NMOSD"], "paddingInner": 0, "paddingOuter": 0.06}},
                    "y": {"field": "lo", "type": "quantitative", "title": null, "scale": {"domain": [-0.76, 18.15], "nice": false, "zero": false}, "axis": {"values": [0, 5, 10, 15], "format": "d"}},
                    "y2": {"field": "hi"}}},
      {"data": {"name": "box"}, "transform": [{"filter": "datum.p === 'K'"}, {"fold": ["lo", "hi"], "as": ["k", "w"]}], "mark": {"type": "tick", "size": 10, "thickness": 0.8, "color": "#333"},
       "encoding": {"x": {"field": "grp", "type": "nominal", "scale": {"domain": ["HC", "Non-recent activity NMOSD", "Recent activity NMOSD"], "paddingInner": 0, "paddingOuter": 0.06}, "axis": null},
                    "y": {"field": "w", "type": "quantitative", "scale": {"domain": [-0.76, 18.15], "nice": false, "zero": false}, "axis": null}}},
      {"data": {"name": "box"}, "transform": [{"filter": "datum.p === 'K'"}], "mark": {"type": "bar", "stroke": "#333", "strokeWidth": 0.8, "width": {"band": 0.8}},
       "encoding": {"x": {"field": "grp", "type": "nominal", "scale": {"domain": ["HC", "Non-recent activity NMOSD", "Recent activity NMOSD"], "paddingInner": 0, "paddingOuter": 0.06}, "axis": null},
                    "y": {"field": "q1", "type": "quantitative", "scale": {"domain": [-0.76, 18.15], "nice": false, "zero": false}, "axis": null}, "y2": {"field": "q3"},
                    "color": {"field": "c", "type": "nominal", "scale": {"domain": ["HC", "RRMS", "Atypical MS", "NMOSD", "SPMS"], "range": ["#ffffff", "#87ceeb", "#ff0000", "#00ff00", "#0000ff"]}, "legend": null}}},
      {"data": {"name": "box"}, "transform": [{"filter": "datum.p === 'K'"}], "mark": {"type": "tick", "size": 22, "thickness": 2, "color": "#000"},
       "encoding": {"x": {"field": "grp", "type": "nominal", "scale": {"domain": ["HC", "Non-recent activity NMOSD", "Recent activity NMOSD"], "paddingInner": 0, "paddingOuter": 0.06}, "axis": null},
                    "y": {"field": "med", "type": "quantitative", "scale": {"domain": [-0.76, 18.15], "nice": false, "zero": false}, "axis": null}}},
      {"data": {"name": "out"}, "transform": [{"filter": "datum.p === 'K'"}], "mark": {"type": "point", "filled": true, "size": 5, "color": "#333", "opacity": 1},
       "encoding": {"x": {"field": "grp", "type": "nominal", "scale": {"domain": ["HC", "Non-recent activity NMOSD", "Recent activity NMOSD"], "paddingInner": 0, "paddingOuter": 0.06}, "axis": null},
                    "y": {"field": "y", "type": "quantitative", "scale": {"domain": [-0.76, 18.15], "nice": false, "zero": false}, "axis": null}}},
      {"data": {"name": "sig"}, "transform": [{"filter": "datum.p === 'K'"}], "mark": {"type": "rule", "color": "#000", "strokeWidth": 1},
       "encoding": {"x": {"field": "a", "type": "nominal", "scale": {"domain": ["HC", "Non-recent activity NMOSD", "Recent activity NMOSD"], "paddingInner": 0, "paddingOuter": 0.06}, "axis": null}, "x2": {"field": "b"},
                    "y": {"field": "y", "type": "quantitative", "scale": {"domain": [-0.76, 18.15], "nice": false, "zero": false}, "axis": null}}},
      {"data": {"name": "sig"}, "transform": [{"filter": "datum.p === 'K'"}], "mark": {"type": "text", "fontSize": 14, "fontWeight": "bold", "baseline": "alphabetic", "dy": 5, "color": "#000"},
       "encoding": {"x": {"field": "m", "type": "nominal", "scale": {"domain": ["HC", "Non-recent activity NMOSD", "Recent activity NMOSD"], "paddingInner": 0, "paddingOuter": 0.06}, "axis": {"orient": "top", "title": ["Clostridium sp.", "HT03-22"]}},
                    "y": {"field": "y", "type": "quantitative", "scale": {"domain": [-0.76, 18.15], "nice": false, "zero": false}, "axis": null},
                    "text": {"field": "lab"}}}
     ]},
    {"width": 86, "height": 100, "title": "L", "resolve": {"axis": {"x": "independent"}},
     "layer": [
      {"data": {"name": "box"}, "transform": [{"filter": "datum.p === 'L'"}], "mark": {"type": "rule", "strokeDash": [3, 2], "color": "#333", "strokeWidth": 0.8},
       "encoding": {"x": {"field": "grp", "type": "nominal", "title": null, "scale": {"domain": ["HC", "Low-severity SPMS", "High-severity SPMS"], "paddingInner": 0, "paddingOuter": 0.06}},
                    "y": {"field": "lo", "type": "quantitative", "title": null, "scale": {"domain": [-0.087, 3.19], "nice": false, "zero": false}, "axis": {"values": [0, 0.5, 1, 1.5, 2, 2.5, 3], "format": ".1f"}},
                    "y2": {"field": "hi"}}},
      {"data": {"name": "box"}, "transform": [{"filter": "datum.p === 'L'"}, {"fold": ["lo", "hi"], "as": ["k", "w"]}], "mark": {"type": "tick", "size": 10, "thickness": 0.8, "color": "#333"},
       "encoding": {"x": {"field": "grp", "type": "nominal", "scale": {"domain": ["HC", "Low-severity SPMS", "High-severity SPMS"], "paddingInner": 0, "paddingOuter": 0.06}, "axis": null},
                    "y": {"field": "w", "type": "quantitative", "scale": {"domain": [-0.087, 3.19], "nice": false, "zero": false}, "axis": null}}},
      {"data": {"name": "box"}, "transform": [{"filter": "datum.p === 'L'"}], "mark": {"type": "bar", "stroke": "#333", "strokeWidth": 0.8, "width": {"band": 0.8}},
       "encoding": {"x": {"field": "grp", "type": "nominal", "scale": {"domain": ["HC", "Low-severity SPMS", "High-severity SPMS"], "paddingInner": 0, "paddingOuter": 0.06}, "axis": null},
                    "y": {"field": "q1", "type": "quantitative", "scale": {"domain": [-0.087, 3.19], "nice": false, "zero": false}, "axis": null}, "y2": {"field": "q3"},
                    "color": {"field": "c", "type": "nominal", "scale": {"domain": ["HC", "RRMS", "Atypical MS", "NMOSD", "SPMS"], "range": ["#ffffff", "#87ceeb", "#ff0000", "#00ff00", "#0000ff"]}, "legend": null}}},
      {"data": {"name": "box"}, "transform": [{"filter": "datum.p === 'L'"}], "mark": {"type": "tick", "size": 22, "thickness": 2, "color": "#000"},
       "encoding": {"x": {"field": "grp", "type": "nominal", "scale": {"domain": ["HC", "Low-severity SPMS", "High-severity SPMS"], "paddingInner": 0, "paddingOuter": 0.06}, "axis": null},
                    "y": {"field": "med", "type": "quantitative", "scale": {"domain": [-0.087, 3.19], "nice": false, "zero": false}, "axis": null}}},
      {"data": {"name": "out"}, "transform": [{"filter": "datum.p === 'L'"}], "mark": {"type": "point", "filled": true, "size": 5, "color": "#333", "opacity": 1},
       "encoding": {"x": {"field": "grp", "type": "nominal", "scale": {"domain": ["HC", "Low-severity SPMS", "High-severity SPMS"], "paddingInner": 0, "paddingOuter": 0.06}, "axis": null},
                    "y": {"field": "y", "type": "quantitative", "scale": {"domain": [-0.087, 3.19], "nice": false, "zero": false}, "axis": null}}},
      {"data": {"name": "sig"}, "transform": [{"filter": "datum.p === 'L'"}], "mark": {"type": "rule", "color": "#000", "strokeWidth": 1},
       "encoding": {"x": {"field": "a", "type": "nominal", "scale": {"domain": ["HC", "Low-severity SPMS", "High-severity SPMS"], "paddingInner": 0, "paddingOuter": 0.06}, "axis": null}, "x2": {"field": "b"},
                    "y": {"field": "y", "type": "quantitative", "scale": {"domain": [-0.087, 3.19], "nice": false, "zero": false}, "axis": null}}},
      {"data": {"name": "sig"}, "transform": [{"filter": "datum.p === 'L'"}], "mark": {"type": "text", "fontSize": 14, "fontWeight": "bold", "baseline": "alphabetic", "dy": 5, "color": "#000"},
       "encoding": {"x": {"field": "m", "type": "nominal", "scale": {"domain": ["HC", "Low-severity SPMS", "High-severity SPMS"], "paddingInner": 0, "paddingOuter": 0.06}, "axis": {"orient": "top", "title": ["Streptococcus", "parasanguinis"]}},
                    "y": {"field": "y", "type": "quantitative", "scale": {"domain": [-0.087, 3.19], "nice": false, "zero": false}, "axis": null},
                    "text": {"field": "lab"}}}
     ]},
    {"width": 86, "height": 100, "title": "M", "resolve": {"axis": {"x": "independent"}},
     "layer": [
      {"data": {"name": "box"}, "transform": [{"filter": "datum.p === 'M'"}], "mark": {"type": "rule", "strokeDash": [3, 2], "color": "#333", "strokeWidth": 0.8},
       "encoding": {"x": {"field": "grp", "type": "nominal", "title": null, "scale": {"domain": ["HC", "Low-severity SPMS", "High-severity SPMS"], "paddingInner": 0, "paddingOuter": 0.06}},
                    "y": {"field": "lo", "type": "quantitative", "title": null, "scale": {"domain": [-0.055, 1.59], "nice": false, "zero": false}, "axis": {"values": [0, 0.5, 1, 1.5], "format": ".1f"}},
                    "y2": {"field": "hi"}}},
      {"data": {"name": "box"}, "transform": [{"filter": "datum.p === 'M'"}, {"fold": ["lo", "hi"], "as": ["k", "w"]}], "mark": {"type": "tick", "size": 10, "thickness": 0.8, "color": "#333"},
       "encoding": {"x": {"field": "grp", "type": "nominal", "scale": {"domain": ["HC", "Low-severity SPMS", "High-severity SPMS"], "paddingInner": 0, "paddingOuter": 0.06}, "axis": null},
                    "y": {"field": "w", "type": "quantitative", "scale": {"domain": [-0.055, 1.59], "nice": false, "zero": false}, "axis": null}}},
      {"data": {"name": "box"}, "transform": [{"filter": "datum.p === 'M'"}], "mark": {"type": "bar", "stroke": "#333", "strokeWidth": 0.8, "width": {"band": 0.8}},
       "encoding": {"x": {"field": "grp", "type": "nominal", "scale": {"domain": ["HC", "Low-severity SPMS", "High-severity SPMS"], "paddingInner": 0, "paddingOuter": 0.06}, "axis": null},
                    "y": {"field": "q1", "type": "quantitative", "scale": {"domain": [-0.055, 1.59], "nice": false, "zero": false}, "axis": null}, "y2": {"field": "q3"},
                    "color": {"field": "c", "type": "nominal", "scale": {"domain": ["HC", "RRMS", "Atypical MS", "NMOSD", "SPMS"], "range": ["#ffffff", "#87ceeb", "#ff0000", "#00ff00", "#0000ff"]}, "legend": null}}},
      {"data": {"name": "box"}, "transform": [{"filter": "datum.p === 'M'"}], "mark": {"type": "tick", "size": 22, "thickness": 2, "color": "#000"},
       "encoding": {"x": {"field": "grp", "type": "nominal", "scale": {"domain": ["HC", "Low-severity SPMS", "High-severity SPMS"], "paddingInner": 0, "paddingOuter": 0.06}, "axis": null},
                    "y": {"field": "med", "type": "quantitative", "scale": {"domain": [-0.055, 1.59], "nice": false, "zero": false}, "axis": null}}},
      {"data": {"name": "out"}, "transform": [{"filter": "datum.p === 'M'"}], "mark": {"type": "point", "filled": true, "size": 5, "color": "#333", "opacity": 1},
       "encoding": {"x": {"field": "grp", "type": "nominal", "scale": {"domain": ["HC", "Low-severity SPMS", "High-severity SPMS"], "paddingInner": 0, "paddingOuter": 0.06}, "axis": null},
                    "y": {"field": "y", "type": "quantitative", "scale": {"domain": [-0.055, 1.59], "nice": false, "zero": false}, "axis": null}}},
      {"data": {"name": "sig"}, "transform": [{"filter": "datum.p === 'M'"}], "mark": {"type": "rule", "color": "#000", "strokeWidth": 1},
       "encoding": {"x": {"field": "a", "type": "nominal", "scale": {"domain": ["HC", "Low-severity SPMS", "High-severity SPMS"], "paddingInner": 0, "paddingOuter": 0.06}, "axis": null}, "x2": {"field": "b"},
                    "y": {"field": "y", "type": "quantitative", "scale": {"domain": [-0.055, 1.59], "nice": false, "zero": false}, "axis": null}}},
      {"data": {"name": "sig"}, "transform": [{"filter": "datum.p === 'M'"}], "mark": {"type": "text", "fontSize": 14, "fontWeight": "bold", "baseline": "alphabetic", "dy": 5, "color": "#000"},
       "encoding": {"x": {"field": "m", "type": "nominal", "scale": {"domain": ["HC", "Low-severity SPMS", "High-severity SPMS"], "paddingInner": 0, "paddingOuter": 0.06}, "axis": {"orient": "top", "title": ["Eubacterium", "hallii"]}},
                    "y": {"field": "y", "type": "quantitative", "scale": {"domain": [-0.055, 1.59], "nice": false, "zero": false}, "axis": null},
                    "text": {"field": "lab"}}}
     ]}
  ]
 }
]
}
